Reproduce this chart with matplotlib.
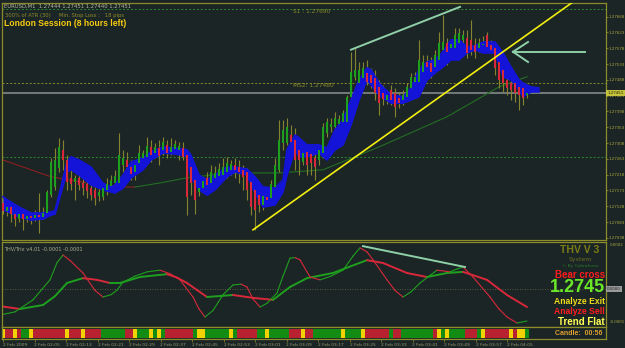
import matplotlib
matplotlib.use("Agg")
import matplotlib.pyplot as plt
import numpy as np
from matplotlib.collections import LineCollection
from matplotlib.transforms import blended_transform_factory

W, H = 625, 348
BASE = 1.27  # prices below are stored as points above 1.27000

# ---- candles (EURUSD M1), points above 1.27000 ----
OPEN_PTS = [137, 115, 126, 106, 92, 106, 92, 100, 95, 103, 98, 109, 160, 183, 237, 289, 260, 209, 197, 209,
            194, 192, 180, 175, 157, 155, 175, 186, 194, 194, 246, 260, 240, 226, 251, 266, 269, 297, 280, 294,
            289, 303, 283, 291, 289, 294, 274, 240, 203, 169, 180, 209, 194, 209, 214, 217, 226, 232, 246, 240,
            232, 226, 197, 175, 160, 132, 155, 152, 183, 232, 308, 308, 331, 317, 289, 254, 283, 277, 266, 260,
            280, 337, 354, 354, 363, 368, 368, 440, 497, 479, 494, 508, 502, 494, 468, 451, 431, 460, 451, 437,
            431, 440, 465, 482, 482, 511, 539, 536, 525, 545, 574, 593, 579, 579, 593, 602, 608, 602, 588, 579,
            588, 616, 588, 579, 539, 517, 488, 479, 479, 468, 465, 445]
HIGH_PTS = [152, 137, 135, 118, 120, 115, 109, 112, 118, 166, 126, 175, 266, 294, 323, 317, 274, 246, 217, 232,
            220, 214, 203, 194, 186, 194, 209, 217, 232, 337, 289, 283, 260, 254, 303, 289, 326, 317, 308, 317,
            326, 317, 323, 317, 311, 311, 289, 260, 226, 194, 209, 226, 246, 243, 251, 266, 269, 260, 266, 260,
            246, 237, 209, 189, 175, 169, 175, 203, 266, 374, 374, 380, 360, 351, 317, 303, 294, 294, 289, 303,
            365, 380, 380, 397, 388, 403, 445, 568, 579, 539, 539, 545, 522, 517, 488, 474, 460, 474, 465, 454,
            460, 479, 508, 511, 602, 559, 559, 554, 574, 625, 673, 608, 602, 636, 636, 631, 631, 659, 608, 608,
            613, 625, 602, 591, 551, 528, 502, 494, 488, 482, 474, 474]
LOW_PTS = [106, 100, 83, 72, 83, 61, 83, 78, 86, 52, 92, 100, 155, 175, 226, 232, 175, 175, 146, 175,
           160, 152, 146, 132, 143, 146, 160, 175, 180, 180, 226, 217, 203, 203, 237, 246, 254, 254, 266, 246,
           274, 266, 274, 283, 260, 260, 103, 160, 106, 157, 169, 175, 186, 197, 203, 212, 209, 217, 209, 194,
           175, 146, 103, 61, 112, 118, 132, 140, 175, 226, 289, 303, 289, 232, 217, 246, 217, 217, 203, 246,
           266, 326, 340, 346, 351, 360, 360, 431, 488, 471, 482, 474, 465, 431, 388, 417, 420, 417, 383, 408,
           417, 431, 454, 460, 474, 502, 488, 494, 517, 531, 568, 531, 568, 574, 588, 588, 551, 559, 551, 568,
           574, 574, 568, 502, 465, 454, 445, 431, 425, 403, 417, 437]
CLOSE_PTS = [115, 126, 106, 92, 106, 92, 100, 95, 103, 98, 109, 169, 254, 260, 297, 260, 197, 192, 209, 189,
             180, 172, 160, 152, 169, 180, 192, 203, 214, 274, 266, 240, 220, 246, 280, 280, 300, 274, 297, 271,
             311, 280, 297, 306, 300, 269, 155, 194, 146, 180, 200, 189, 226, 223, 234, 240, 251, 249, 232, 226,
             212, 175, 126, 118, 132, 157, 146, 192, 246, 317, 346, 354, 311, 260, 260, 280, 246, 251, 240, 289,
             354, 368, 363, 380, 377, 394, 440, 511, 517, 517, 522, 482, 479, 451, 422, 434, 445, 431, 411, 422,
             445, 468, 497, 497, 545, 539, 525, 511, 559, 593, 596, 568, 591, 616, 622, 616, 565, 574, 568, 593,
             591, 582, 574, 522, 488, 479, 465, 460, 451, 445, 437, 451]

# ---- blue ribbon (bar index, upper / lower edge, points) ----
BLUE_IDX = [0, 2, 4, 7, 10, 12, 13, 14, 16, 17, 19, 22, 25, 27, 28, 30, 32, 35, 37, 40, 43, 46, 47, 49, 51,
            53, 56, 58, 61, 63, 65, 68, 70, 71, 73, 74, 76, 79, 81, 83, 85, 87, 89, 91, 92, 94, 97, 100, 102,
            104, 106, 108, 110, 112, 114, 116, 118, 120, 123, 125, 127, 129, 130, 132, 134]
BLUE_HI = [155, 140, 126, 109, 109, 112, 115, 160, 254, 269, 260, 240, 194, 183, 189, 217, 254, 266, 283, 297,
           294, 289, 274, 217, 203, 217, 240, 240, 234, 212, 183, 180, 203, 289, 331, 323, 303, 303, 294, 346,
           374, 431, 488, 522, 517, 479, 445, 440, 465, 517, 539, 545, 568, 602, 602, 582, 585, 596, 596, 565,
           525, 488, 479, 468, 465]
BLUE_LO = [118, 109, 98, 89, 92, 103, 106, 146, 226, 232, 217, 189, 175, 169, 166, 180, 209, 232, 260, 280,
           277, 271, 209, 175, 160, 175, 212, 226, 217, 166, 126, 132, 169, 217, 289, 269, 269, 280, 260, 289,
           303, 360, 431, 488, 474, 445, 422, 422, 431, 440, 488, 508, 525, 545, 545, 565, 574, 565, 565, 497,
           488, 460, 440, 454, 454]

# ---- slow moving average ----
MA_IDX = [0, 12, 27, 33, 39, 46, 57, 69, 80, 94, 111, 124, 131]
MA_PTS = [260, 212, 183, 183, 194, 209, 223, 223, 232, 297, 383, 468, 497]
MA_RED_UNTIL = 33

# ---- levels and drawn objects ----
S1_PTS = 690
MS2_PTS = 480
BID_PTS = 451
GREEN_LVL_PTS = 269
PRICE_TICKS = [668, 623, 578, 533, 488, 443, 398, 353, 308, 263, 218, 173, 128, 83, 38]
YELLOW_IDX = [62.5, 142.5]
YELLOW_PTS = [61, 710]
PALE_IDX = [87, 114.25]
PALE_PTS = [574, 696]
ARROW_TAIL = (145.5, 568)
ARROW_HEAD = (127.5, 568)
ARROW_BARBS = [(131.25, 596), (131.25, 539)]

# ---- THV/Trix sub-window (units of 1e-6) ----
FAST_IDX = [-0.75, 3, 7.5, 11.75, 13.5, 15, 16.75, 20, 23, 25, 27, 28.5, 30, 33, 36, 39.25, 42, 44.25, 47.5,
            49, 50.5, 52.5, 55, 57.5, 59.5, 61, 62.5, 64.25, 66, 68.5, 70, 71.75, 73, 74.25, 76.75, 79.25, 82,
            85, 87.5, 89.25, 91, 92.5, 96, 98, 100, 102, 104.25, 108.5, 111.75, 113.5, 115, 117.5, 121.75, 124,
            126, 128.5, 131]
FAST_VAL = [-91, -80, -38, 32, 92, 119, 100, 56, -5, -28, -20, -4, 24, 45, 60, 66, 52, 32, -28,
            -70, -98, -75, -20, 14, 17, 7, -35, -63, -50, -14, 45, 108, 110, 102, 42, 32, 45,
            66, 115, 144, 130, 102, 32, -5, -28, -10, 21, 66, 60, 70, 77, 42, -28, -70,
            -98, -119, -112]
SLOW_IDX = [-0.75, 4.25, 10, 13, 16, 20, 23.5, 26.75, 29.25, 34.25, 41, 43.5, 46, 51, 57.5, 62.5, 67.5, 71.75,
            76, 82.5, 87, 91, 95, 101, 106, 111, 115, 121, 126, 131]
SLOW_VAL = [-60, -70, -56, -25, 21, 38, 32, 21, 21, 42, 52, 40, 21, -28, -21, -31, -38, 7,
            38, 56, 80, 101, 91, 56, 42, 56, 60, 32, -21, -63]
IND_TREND_IDX = [90, 115.5]
IND_TREND_VAL = [150, 77]

# ---- signal strip: one letter per bar ----
STRIP = ("YRRYRGGYRRRRRRRRYRRRYRRRRGGGGGGRRYGGGYGYGRRRRRRRGYYGGGGGGYGRRRRRGGYGGGGGRRRYRR"
         "GGGGGGGYGGGGYRRRRRRGRRGGGGGGGGRYGYGGGGRRRGYRRRRRRYRYYG")

TIME_LABELS = ["2 Feb 2009", "2 Feb 02:05", "2 Feb 02:13", "2 Feb 02:21", "2 Feb 02:29", "2 Feb 02:37",
               "2 Feb 02:45", "2 Feb 02:53", "2 Feb 03:01", "2 Feb 03:09", "2 Feb 03:17", "2 Feb 03:25",
               "2 Feb 03:33", "2 Feb 03:41", "2 Feb 03:49", "2 Feb 03:57", "2 Feb 04:05"]
TIME_STEP_BARS = 7.875

BG = "#1b2526"
OLIVE = "#8c8c2a"
TXT = "#a9a93c"
WICK = "#87822e"
UP = "#1ea01e"
DN = "#d8283a"
PALE = "#8fd0a8"


def price(pts):
    return BASE + np.asarray(pts, dtype=float) / 1e5


def px_axes(fig, x0, y0, x1, y1):
    ax = fig.add_axes([x0 / W, 1 - y1 / H, (x1 - x0) / W, (y1 - y0) / H])
    ax.set_facecolor(BG)
    for s in ax.spines.values():
        s.set_color(OLIVE)
        s.set_linewidth(0.9)
    ax.set_xlim(-0.25, 150.75)
    return ax


def ftext(fig, x, y, s, **kw):
    fig.text(x / W, 1 - y / H, s, **kw)


def colored_line(ax, xs, ys, lw):
    xs, ys = np.asarray(xs, float), np.asarray(ys, float)
    segs = np.stack([np.column_stack([xs[:-1], ys[:-1]]), np.column_stack([xs[1:], ys[1:]])], axis=1)
    cols = [UP if d >= 0 else DN for d in np.diff(ys)]
    ax.add_collection(LineCollection(segs, colors=cols, linewidths=lw, capstyle="round"))


fig = plt.figure(figsize=(W / 100, H / 100), dpi=100)
fig.patch.set_facecolor(BG)

# ---------------- main price window ----------------
ax = px_axes(fig, 2, 3, 606, 240)
ax.set_ylim(price(32), price(707))
idx = np.arange(len(CLOSE_PTS))
o, h, l, c = price(OPEN_PTS), price(HIGH_PTS), price(LOW_PTS), price(CLOSE_PTS)

ax.axhline(price(S1_PTS), color="#2c8a2c", lw=0.7, ls=(0, (2, 2)), zorder=1)
ax.axhline(price(MS2_PTS), color=OLIVE, lw=0.7, ls=(0, (2, 2)), zorder=1)
ax.axhline(price(GREEN_LVL_PTS), color="#2c8a2c", lw=0.7, ls=(0, (2, 2)), zorder=1)
ax.axhline(price(BID_PTS), color="#7c8080", lw=1.3, zorder=1)
ax.text(72.5, price(S1_PTS), f"S1 : {price(S1_PTS):.5f}", color=OLIVE, fontsize=4.2, va="top")
ax.text(72.5, price(MS2_PTS), f"MS2: {price(MS2_PTS):.5f}", color=OLIVE, fontsize=4.2, va="top")

ma_x, ma_y = np.array(MA_IDX), price(MA_PTS)
split = MA_IDX.index(MA_RED_UNTIL)
ax.plot(ma_x[:split + 1], ma_y[:split + 1], color="#8b2020", lw=0.8, zorder=2)
ax.plot(ma_x[split:], ma_y[split:], color="#236e23", lw=0.8, zorder=2)

ax.vlines(idx, l, h, color=WICK, lw=0.8, zorder=2)
ax.fill_between(BLUE_IDX, price(BLUE_LO), price(BLUE_HI), color="#1414d8", lw=0, zorder=3)
ax.plot(BLUE_IDX, price(BLUE_LO), color="#1414d8", lw=1.2, zorder=3)
ax.plot(BLUE_IDX, price(BLUE_HI), color="#1414d8", lw=1.2, zorder=3)
body = np.maximum(np.abs(c - o), 0.00002)
ax.bar(idx, body, bottom=np.minimum(o, c), width=0.7,
       color=[UP if cc >= oo else DN for oo, cc in zip(o, c)], lw=0, zorder=4)

ax.plot(YELLOW_IDX, price(YELLOW_PTS), color="#f2ee10", lw=1.2, zorder=5)
ax.plot(PALE_IDX, price(PALE_PTS), color=PALE, lw=1.4, zorder=5)
ax.plot([ARROW_TAIL[0], ARROW_HEAD[0]], price([ARROW_TAIL[1], ARROW_HEAD[1]]), color=PALE, lw=1.4, zorder=5)
for bx, by in ARROW_BARBS:
    ax.plot([ARROW_HEAD[0], bx], price([ARROW_HEAD[1], by]), color=PALE, lw=1.4, zorder=5)

ax.set_xticks([])
ax.set_yticks(price(PRICE_TICKS))
ax.set_yticklabels([f"{v:.5f}" for v in price(PRICE_TICKS)])
ax.tick_params(axis="y", left=False, labelleft=False, right=True, labelright=True,
               length=1.5, width=0.6, colors=OLIVE, labelcolor=TXT, labelsize=2.9, pad=0.5)
tr = blended_transform_factory(ax.transAxes, ax.transData)
ax.text(1.002, price(BID_PTS), f"{price(BID_PTS):.5f}", transform=tr, fontsize=2.9, color="#1d1d08",
        va="center", ha="left", zorder=10,
        bbox=dict(boxstyle="square,pad=0.3", fc="#c4c23a", ec="none"), clip_on=False)

ftext(fig, 4, 6, "EURUSD,M1  1.27444 1.27451 1.27440 1.27451", color="#b8b8a0", fontsize=3.8, va="center")
ftext(fig, 5, 15.5, "300% of ATR (30)     Min. Stop Loss :   18 pips", color=OLIVE, fontsize=3.8, va="center")
ftext(fig, 4, 23, "London Session (8 hours left)", color="#f5cc10", fontsize=6.2, fontweight="bold",
      family="Liberation Sans", va="center")

# ---------------- THV/Trix window ----------------
ax2 = px_axes(fig, 2, 242, 606, 327)
ax2.set_ylim(-133, 164.5)
ax2.axhline(0, color="#6c6c48", lw=0.6, ls=(0, (1, 2)))
colored_line(ax2, SLOW_IDX, SLOW_VAL, 1.4)
colored_line(ax2, FAST_IDX, FAST_VAL, 0.8)
ax2.plot(IND_TREND_IDX, IND_TREND_VAL, color=PALE, lw=1.4)
ax2.set_xticks([])
ax2.set_yticks([])
tr2 = blended_transform_factory(ax2.transAxes, ax2.transData)
ax2.text(1.006, 160, "0.0002", transform=tr2, fontsize=2.9, color=TXT, va="top", clip_on=False)
ax2.text(1.006, -124, "-0.0001", transform=tr2, fontsize=2.9, color=TXT, va="bottom", clip_on=False)
ax2.text(1.002, 0, "0.0000", transform=tr2, fontsize=2.9, color="#202020", va="center", clip_on=False,
         bbox=dict(boxstyle="square,pad=0.3", fc="#9a9a9a", ec="none"))
ax2.text(0.003, 0.95, "THV/Trix v4.01 -0.0001 -0.0001", transform=ax2.transAxes, fontsize=3.6,
         color="#b0b090", va="top")

# ---------------- signal strip ----------------
ax3 = px_axes(fig, 2, 327, 606, 339)
ax3.set_ylim(0, 1)
strip_col = {"R": "#b82230", "G": "#128c12", "Y": "#f2d200"}
ax3.bar(np.arange(len(STRIP)), 0.78, bottom=0.08, width=1.0,
        color=[strip_col[ch] for ch in STRIP], lw=0)
ax3.set_yticks([])
tick_pos = np.arange(len(TIME_LABELS)) * TIME_STEP_BARS
ax3.set_xticks(tick_pos)
ax3.set_xticklabels(TIME_LABELS, ha="left")
ax3.tick_params(axis="x", length=2, width=0.5, colors=OLIVE, labelcolor="#9a9a6a", labelsize=3.2, pad=1)

# ---------------- info panel ----------------
bold = dict(family="Liberation Sans", fontweight="bold", va="center")
ftext(fig, 580, 250, "THV V 3", color="#7d7d14", fontsize=7.5, ha="center", **bold)
ftext(fig, 580, 259, "System", color="#6e6e22", fontsize=4.5, ha="center", va="center")
ftext(fig, 580, 265.5, "\u00a9 By Cobraforex", color="#2b7a2b", fontsize=3.2, ha="center", va="center")
ftext(fig, 605, 275.5, "Bear cross", color="#ff1c1c", fontsize=7.0, ha="right", **bold)
ftext(fig, 605, 287.5, "1.2745", color="#6ae828", fontsize=13, ha="right", **bold)
ftext(fig, 605, 302, "Analyze Exit", color="#f0dc18", fontsize=6.2, ha="right", **bold)
ftext(fig, 605, 311, "Analyze Sell", color="#ff1c1c", fontsize=6.2, ha="right", **bold)
ftext(fig, 605, 322, "Trend Flat", color="#ffff55", fontsize=7.0, ha="right", **bold)
ftext(fig, 602, 333.5, "Candle:  00:56", color="#e0a030", fontsize=5.0, ha="right", **bold)

fig.savefig("out.png", dpi=100, facecolor=BG)
